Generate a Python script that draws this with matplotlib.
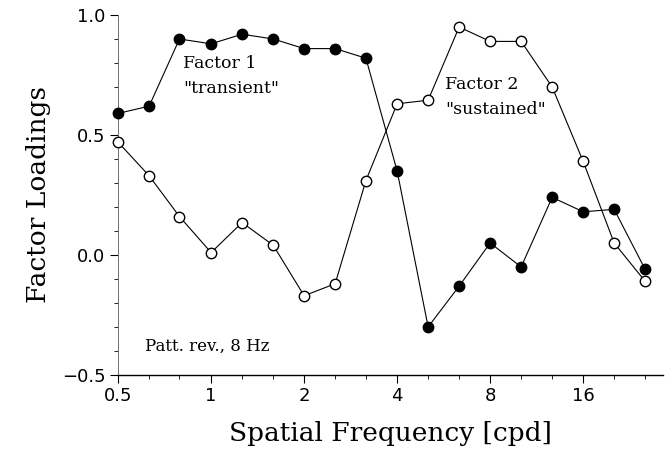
import matplotlib
matplotlib.use("Agg")
from matplotlib import pyplot as plt
from matplotlib.ticker import FixedLocator, NullFormatter

# spatial frequencies, 1/3 octave steps [cpd]
freq = [0.5, 0.63, 0.79, 1.0, 1.26, 1.59, 2.0, 2.52, 3.17,
        4.0, 5.04, 6.35, 8.0, 10.08, 12.7, 16.0, 20.16, 25.4]
# factor 1 "transient" (filled)
factor1 = [0.59, 0.62, 0.90, 0.88, 0.92, 0.90, 0.86, 0.86, 0.82,
           0.35, -0.30, -0.13, 0.05, -0.05, 0.24, 0.18, 0.19, -0.06]
# factor 2 "sustained" (open)
factor2 = [0.47, 0.33, 0.16, 0.01, 0.135, 0.04, -0.17, -0.12, 0.31,
           0.63, 0.645, 0.95, 0.89, 0.89, 0.70, 0.39, 0.05, -0.11]

major_x = [0.5, 1, 2, 4, 8, 16]
major_x_labels = ["0.5", "1", "2", "4", "8", "16"]
major_y = [-0.5, 0.0, 0.5, 1.0]
major_y_labels = ["\u22120.5", "0.0", "0.5", "1.0"]

fig = plt.figure(figsize=(6.71, 4.55), dpi=100)
ax = fig.add_axes([0.176, 0.176, 0.812, 0.791])

ax.plot(freq, factor2, "-o", color="black", lw=0.8, ms=7.5,
        mfc="white", mec="black", mew=1.0, clip_on=False, zorder=3)
ax.plot(freq, factor1, "-o", color="black", lw=0.8, ms=7.5,
        mfc="black", mec="black", clip_on=False, zorder=4)

ax.set_xscale("log", base=2)
ax.set_xlim(0.5, 29)
ax.set_ylim(-0.5, 1.0)

ax.xaxis.set_major_locator(FixedLocator(major_x))
ax.set_xticklabels(major_x_labels)
ax.xaxis.set_minor_locator(FixedLocator([f for f in freq if f not in major_x]))
ax.xaxis.set_minor_formatter(NullFormatter())
ax.set_yticks(major_y)
ax.set_yticklabels(major_y_labels)
ax.set_yticks([v / 10 for v in range(-5, 11)], minor=True)

for s in ["top", "right"]:
    ax.spines[s].set_visible(False)
ax.spines["left"].set_linewidth(0.6)
ax.spines["left"].set_color("0.35")
ax.spines["bottom"].set_linewidth(1.0)

ax.tick_params(which="major", direction="out", length=6, width=0.8,
               labelsize=13, pad=3)
ax.tick_params(which="minor", direction="out", length=3, width=0.6)

serif = "DejaVu Serif"
ax.set_xlabel("Spatial Frequency [cpd]", family=serif, fontsize=19, labelpad=11)
ax.set_ylabel("Factor Loadings", family=serif, fontsize=19, labelpad=8)

ax.text(0.81, 0.80, "Factor 1", family=serif, fontsize=12.5, va="center")
ax.text(0.81, 0.695, "\"transient\"", family=serif, fontsize=12.5, va="center")
ax.text(5.72, 0.71, "Factor 2", family=serif, fontsize=12.5, va="center")
ax.text(5.72, 0.605, "\"sustained\"", family=serif, fontsize=12.5, va="center")
ax.text(0.61, -0.38, "Patt. rev., 8 Hz", family=serif, fontsize=12, va="center")

plt.savefig("out.png", dpi=100)
